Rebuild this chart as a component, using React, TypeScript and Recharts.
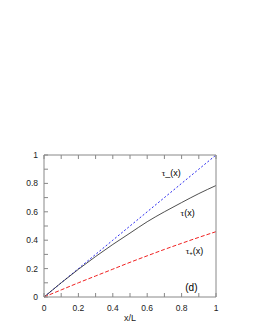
import React from 'react';
import { LineChart, Line, XAxis, YAxis, ReferenceDot } from 'recharts';

const xs = [0, 0.1, 0.2, 0.3, 0.4, 0.5, 0.6, 0.7, 0.8, 0.9, 1];
const tauMinus = [0, 0.1, 0.2, 0.3, 0.4, 0.5, 0.6, 0.7, 0.8, 0.9, 1.0];
const tau = [0, 0.1, 0.195, 0.285, 0.37, 0.45, 0.53, 0.6, 0.665, 0.728, 0.785];
const tauPlus = [0, 0.05, 0.1, 0.148, 0.196, 0.244, 0.29, 0.335, 0.378, 0.42, 0.46];
const ticks = [0, 0.1, 0.2, 0.3, 0.4, 0.5, 0.6, 0.7, 0.8, 0.9, 1];

const labels = [
  { x: 0.74, y: 0.875, text: 'τ_(x)' },
  { x: 0.835, y: 0.59, text: 'τ(x)' },
  { x: 0.875, y: 0.325, text: 'τ+(x)' },
  { x: 0.857, y: 0.07, text: '(d)' },
];

const data = xs.map((x, i) => ({ x, tauMinus: tauMinus[i], tau: tau[i], tauPlus: tauPlus[i] }));

const font = 'Liberation Sans, Arial, sans-serif';
const axisColor = '#888';

const fmt = (v: number) => {
  const r = Math.round(v * 10);
  if (r % 2 !== 0) return '';
  if (r === 0) return '0';
  if (r === 10) return '1';
  return (r / 10).toString();
};

const AnnLabel = (text: string) => (props: any) => {
  const { viewBox } = props;
  const cx = viewBox.x + (viewBox.width || 0) / 2;
  const cy = viewBox.y + (viewBox.height || 0) / 2;
  if (text === 'τ+(x)') {
    return (
      <text x={cx} y={cy} textAnchor="middle" dominantBaseline="central" fontSize={9} fontFamily={font} fill="#000">
        <tspan fontFamily="Liberation Serif, serif">τ</tspan>
        <tspan fontSize={6} dy={2}>+</tspan>
        <tspan dy={-2}>(x)</tspan>
      </text>
    );
  }
  if (text.startsWith('τ')) {
    return (
      <text x={cx} y={cy} textAnchor="middle" dominantBaseline="central" fontSize={9} fontFamily={font} fill="#000">
        <tspan fontFamily="Liberation Serif, serif">τ</tspan>
        <tspan>{text.slice(1)}</tspan>
      </text>
    );
  }
  return (
    <text x={cx} y={cy} textAnchor="middle" dominantBaseline="central" fontSize={10} fontFamily={font} fill="#000">
      {text}
    </text>
  );
};

export default function App() {
  return (
    <div style={{ position: 'absolute', left: 0, top: 0, width: 260, height: 336, background: '#fff' }}>
      <LineChart width={260} height={336} data={data} margin={{ top: 154, right: 43, bottom: 19, left: 14 }}>
        <XAxis
          xAxisId="bottom"
          dataKey="x"
          type="number"
          domain={[0, 1]}
          ticks={ticks}
          tickFormatter={fmt}
          tickSize={-4}
          tickMargin={12}
          height={20}
          stroke={axisColor}
          tick={{ fontSize: 8.5, fontFamily: font, fill: '#222' }}
          label={{ value: 'x/L', position: 'insideBottom', offset: -4, fontSize: 9, fontFamily: font, fill: '#222' }}
        />
        <XAxis
          xAxisId="top"
          orientation="top"
          dataKey="x"
          type="number"
          domain={[0, 1]}
          ticks={ticks}
          tickFormatter={() => ''}
          tickSize={-4}
          height={1}
          stroke={axisColor}
        />
        <YAxis
          yAxisId="left"
          type="number"
          domain={[0, 1]}
          ticks={ticks}
          tickFormatter={fmt}
          tickSize={-4}
          tickMargin={10}
          width={30}
          stroke={axisColor}
          tick={{ fontSize: 8.5, fontFamily: font, fill: '#222' }}
        />
        <YAxis
          yAxisId="right"
          orientation="right"
          type="number"
          domain={[0, 1]}
          ticks={ticks}
          tickFormatter={() => ''}
          tickSize={-4}
          width={1}
          stroke={axisColor}
        />
        <Line xAxisId="bottom" yAxisId="left" dataKey="tauMinus" stroke="#2a2af0" strokeWidth={1} strokeDasharray="2 2" dot={false} isAnimationActive={false} type="linear" />
        <Line xAxisId="bottom" yAxisId="left" dataKey="tau" stroke="#222" strokeWidth={0.8} dot={false} isAnimationActive={false} type="monotone" />
        <Line xAxisId="bottom" yAxisId="left" dataKey="tauPlus" stroke="#f02020" strokeWidth={1} strokeDasharray="4 2" dot={false} isAnimationActive={false} type="monotone" />
        {labels.map((l) => (
          <ReferenceDot
            key={l.text}
            xAxisId="bottom"
            yAxisId="left"
            x={l.x}
            y={l.y}
            r={0}
            stroke="none"
            fill="none"
            label={AnnLabel(l.text)}
          />
        ))}
      </LineChart>
    </div>
  );
}
